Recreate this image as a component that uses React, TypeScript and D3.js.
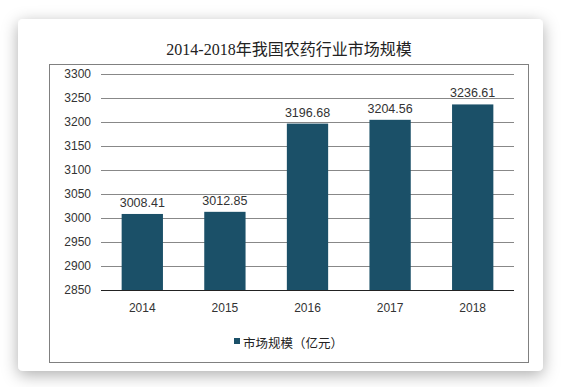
import React from "react";
import * as d3 from "d3";

const years = ["2014", "2015", "2016", "2017", "2018"];
const values = [3008.41, 3012.85, 3196.68, 3204.56, 3236.61];
const valueLabels = ["3008.41", "3012.85", "3196.68", "3204.56", "3236.61"];
const yTicks = [2850, 2900, 2950, 3000, 3050, 3100, 3150, 3200, 3250, 3300];
const title = "2014-2018年我国农药行业市场规模";
const legendLabel = "市场规模（亿元）";

const W = 561;
const H = 387;
const barColor = "#1b5068";
const sans = "Arial, 'Liberation Sans', 'Noto Sans CJK SC', sans-serif";
const serif = "'Times New Roman', 'Liberation Serif', 'Noto Sans CJK SC', serif";

export default function App() {
  const x = d3.scaleBand<string>().domain(years).range([101, 514]).paddingInner(0.5).paddingOuter(0.25);
  const y = d3.scaleLinear().domain([2850, 3300]).range([290, 74]);

  return (
    <svg width={W} height={H} style={{ position: "absolute", left: 0, top: 0 }}>
      <defs>
        <filter id="sh" x="-10%" y="-10%" width="120%" height="125%">
          <feDropShadow dx="0" dy="4" stdDeviation="8" floodColor="#000" floodOpacity="0.32" />
        </filter>
      </defs>
      <rect x={0} y={0} width={W} height={H} fill="#fff" />
      <rect x={18} y={19} width={525} height={352} rx={5} fill="#fff" filter="url(#sh)" />
      <text x={289} y={55} textAnchor="middle" fontFamily={serif} fontSize={16} fill="#222">
        {title}
      </text>
      <rect x={49.5} y={64.5} width={479} height={298} fill="none" stroke="#808080" strokeWidth={1} />
      {yTicks.map((t) => (
        <g key={t}>
          {t !== 2850 && (
            <line x1={101} x2={514} y1={Math.round(y(t)) + 0.5} y2={Math.round(y(t)) + 0.5} stroke="#888" strokeWidth={1} />
          )}
          <text x={91} y={y(t)} dy="0.35em" textAnchor="end" fontFamily={sans} fontSize={12} fill="#333">
            {t}
          </text>
        </g>
      ))}
      {years.map((yr, i) => (
        <g key={yr}>
          <rect x={x(yr)!} y={y(values[i])} width={x.bandwidth()} height={y(2850) - y(values[i])} fill={barColor} />
          <text x={x(yr)! + x.bandwidth() / 2} y={y(values[i]) - 7} textAnchor="middle" fontFamily={sans} fontSize={12.5} fill="#333">
            {valueLabels[i]}
          </text>
          <text x={x(yr)! + x.bandwidth() / 2} y={312} textAnchor="middle" fontFamily={sans} fontSize={12} fill="#333">
            {yr}
          </text>
        </g>
      ))}
      <line x1={101} x2={514} y1={290.5} y2={290.5} stroke="#222" strokeWidth={1} />
      <rect x={234} y={338} width={6} height={6} fill={barColor} />
      <text x={243} y={347.5} fontFamily={sans} fontSize={12.5} fill="#222">
        {legendLabel}
      </text>
    </svg>
  );
}
